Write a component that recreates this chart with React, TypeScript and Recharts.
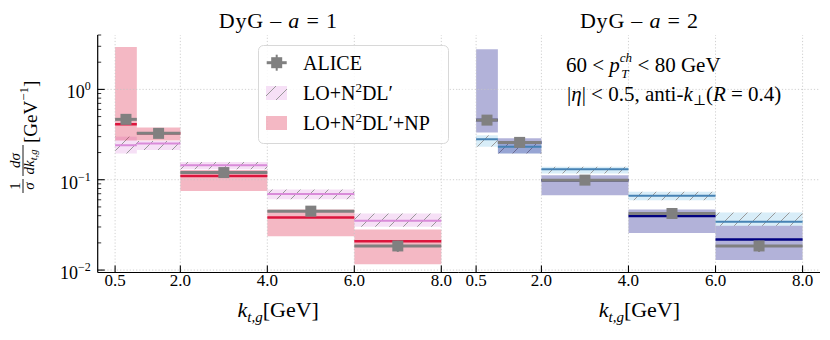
import React from 'react';
import {
  ComposedChart,
  XAxis,
  YAxis,
  Line,
  Scatter,
  ErrorBar,
  ReferenceArea,
  ReferenceLine,
  Legend,
} from 'recharts';

const FONT = '"Times New Roman", "Liberation Serif", "DejaVu Serif", "Noto Serif", Times, serif';

// k_t,g bins [GeV]
const binEdges = [0.5, 1.0, 2.0, 4.0, 6.0, 8.0];
const binCenters = [0.75, 1.5, 3.0, 5.0, 7.0];
const binHalfWidths = [0.25, 0.5, 1.0, 1.0, 1.0];
const xTicks = [0.5, 2.0, 4.0, 6.0, 8.0];
const xDomain = [0.1, 8.4];

const yDomain = [0.0094, 4.0];
const yMajorTicks = [0.01, 0.1, 1];
const yMajorExponents = ['−2', '−1', '0'];
const yMinorTicks = [
  0.02, 0.03, 0.04, 0.05, 0.06, 0.07, 0.08, 0.09,
  0.2, 0.3, 0.4, 0.5, 0.6, 0.7, 0.8, 0.9,
  2, 3, 4,
];
const yTicksAll = [...yMajorTicks, ...yMinorTicks].sort((a, b) => a - b);

// DyG a = 1
const alice1 = [0.466, 0.326, 0.12, 0.0449, 0.0185];
const alice1Err = [0.035, 0.022, 0.008, 0.0035, 0.0026];
const n2dl1 = [0.241, 0.252, 0.145, 0.0693, 0.0351];
const n2dl1Lo = [0.195, 0.213, 0.131, 0.061, 0.0301];
const n2dl1Hi = [0.3, 0.268, 0.157, 0.078, 0.0423];
const np1 = [0.41, 0.326, 0.11, 0.0383, 0.0209];
const np1Lo = [0.272, 0.272, 0.0748, 0.0237, 0.0116];
const np1Hi = [2.94, 0.379, 0.128, 0.0469, 0.0282];

// DyG a = 2
const alice2 = [0.457, 0.259, 0.099, 0.0423, 0.0185];
const alice2Err = [0.035, 0.018, 0.007, 0.0033, 0.0026];
const n2dl2 = [0.28, 0.232, 0.131, 0.0663, 0.0342];
const n2dl2Lo = [0.232, 0.195, 0.117, 0.0594, 0.0309];
const n2dl2Hi = [0.31, 0.26, 0.139, 0.0734, 0.0434];
const np2 = [0.457, 0.259, 0.099, 0.0398, 0.0218];
const np2Lo = [0.334, 0.195, 0.0675, 0.0258, 0.0129];
const np2Hi = [2.79, 0.287, 0.112, 0.0469, 0.0309];

// horizontal step segments, one per bin, separated by null gaps
const stepRows = (vals: number[]) =>
  vals.flatMap((v, i) => [
    { x: binEdges[i], y: v },
    { x: binEdges[i + 1], y: v },
    { x: binEdges[i + 1], y: null },
  ]);

const aliceRows = (vals: number[], errs: number[]) =>
  vals.map((v, i) => ({ x: binCenters[i], y: v, ex: binHalfWidths[i], ey: errs[i] }));

const AXIS = { stroke: '#000', strokeWidth: 1.2 };
const GRID = { stroke: '#c4c4c4', strokeDasharray: '1.2 2', strokeWidth: 0.8 };
const HATCH = 14;
const HATCH_PATH = `M-3,3 L3,-3 M0,${HATCH} L${HATCH},0 M${HATCH - 3},${HATCH + 3} L${HATCH + 3},${HATCH - 3}`;

const YTickLeft = ({ x, y, payload, showLabel, margin }: any) => {
  const idx = yMajorTicks.indexOf(payload.value);
  const major = idx >= 0;
  const ax = x + margin;
  return (
    <g>
      <line x1={ax} x2={ax + (major ? 7 : 3.5)} y1={y} y2={y} stroke="#000" strokeWidth={major ? 1.1 : 0.8} />
      {showLabel && major && (
        <text x={x} y={y + 9} textAnchor="end" fontSize={18} fontFamily={FONT} fill="#000">
          10<tspan dy={-8} fontSize={12}>{yMajorExponents[idx]}</tspan>
        </text>
      )}
    </g>
  );
};

const YTickRight = ({ x, y, payload }: any) => {
  const major = yMajorTicks.indexOf(payload.value) >= 0;
  return <line x1={x} x2={x - (major ? 7 : 3.5)} y1={y} y2={y} stroke="#000" strokeWidth={major ? 1.1 : 0.8} />;
};

const XTickBottom = ({ x, y, payload }: any) => {
  const ay = y - 12;
  return (
    <g>
      <line x1={x} x2={x} y1={ay} y2={ay - 7} stroke="#000" strokeWidth={1.1} />
      <text x={x} y={ay + 13} textAnchor="middle" fontSize={17} fontFamily={FONT} fill="#000">
        {Number(payload.value).toFixed(1)}
      </text>
    </g>
  );
};

const XTickTop = ({ x, y }: any) => (
  <line x1={x} x2={x} y1={y} y2={y + 7} stroke="#000" strokeWidth={1.1} />
);

const LegendBox = () => (
  <svg width={192} height={100} style={{ display: 'block' }} fontFamily={FONT}>
    <defs>
      <pattern id="hatch-leg" patternUnits="userSpaceOnUse" width={HATCH} height={HATCH} x={1} y={2}>
        <rect width={HATCH} height={HATCH} fill="#f6e0f6" />
        <path d={HATCH_PATH} stroke="#999999" strokeWidth={1} />
      </pattern>
    </defs>
    <rect x={0.5} y={0.5} width={190} height={98} rx={5} fill="#fff" fillOpacity={0.85} stroke="#d8d8d8" />
    <line x1={8.7} x2={28.7} y1={17.7} y2={17.7} stroke="#808080" strokeWidth={3} />
    <line x1={18.7} x2={18.7} y1={9.7} y2={25.7} stroke="#808080" strokeWidth={2} />
    <rect x={13.2} y={12.2} width={11} height={11} fill="#808080" />
    <text x={45} y={24.5} fontSize={20} fill="#000">ALICE</text>
    <rect x={8} y={41} width={21} height={14} fill="url(#hatch-leg)" />
    <text x={45} y={55} fontSize={20} fill="#000">
      LO+N<tspan dy={-8} fontSize={13}>2</tspan><tspan dy={8}>DL′</tspan>
    </text>
    <rect x={8} y={71} width={21} height={14} fill="#dc143c" fillOpacity={0.3} />
    <text x={45} y={85} fontSize={20} fill="#000">
      LO+N<tspan dy={-8} fontSize={13}>2</tspan><tspan dy={8}>DL′+NP</tspan>
    </text>
  </svg>
);

type PanelProps = {
  chartWidth: number;
  margin: { top: number; right: number; bottom: number; left: number };
  yAxisWidth: number;
  yTickMargin: number;
  showYLabels: boolean;
  alice: number[];
  aliceErr: number[];
  model: number[];
  modelLo: number[];
  modelHi: number[];
  np: number[];
  npLo: number[];
  npHi: number[];
  modelColor: string;
  modelBand: string;
  npColor: string;
  hatchId: string;
  legend?: boolean;
};

const Panel = (p: PanelProps) => {
  const bins = binEdges.slice(0, -1);
  return (
    <ComposedChart width={p.chartWidth} height={340} margin={p.margin}>
      <defs>
        <pattern id={p.hatchId} patternUnits="userSpaceOnUse" width={HATCH} height={HATCH}>
          <rect width={HATCH} height={HATCH} fill={p.modelBand} />
          <path d={HATCH_PATH} stroke="#999999" strokeWidth={1} />
        </pattern>
      </defs>
      <XAxis
        xAxisId={0}
        dataKey="x"
        type="number"
        domain={xDomain}
        ticks={xTicks}
        allowDataOverflow
        interval={0}
        height={30}
        tickSize={0}
        tickMargin={12}
        tick={XTickBottom}
        tickLine={false}
        axisLine={AXIS}
      />
      <XAxis
        xAxisId="top"
        orientation="top"
        dataKey="x"
        type="number"
        domain={xDomain}
        ticks={xTicks}
        allowDataOverflow
        interval={0}
        height={0}
        tickSize={0}
        tickMargin={0}
        tick={XTickTop}
        tickLine={false}
        axisLine={AXIS}
      />
      <YAxis
        yAxisId={0}
        type="number"
        scale="log"
        domain={yDomain}
        ticks={yTicksAll}
        allowDataOverflow
        interval={0}
        width={p.yAxisWidth}
        tickSize={0}
        tickMargin={p.yTickMargin}
        tick={(t: any) => <YTickLeft {...t} showLabel={p.showYLabels} margin={p.yTickMargin} />}
        tickLine={false}
        axisLine={AXIS}
      />
      <YAxis
        yAxisId="right"
        orientation="right"
        type="number"
        scale="log"
        domain={yDomain}
        ticks={yTicksAll}
        allowDataOverflow
        interval={0}
        width={0}
        tickSize={0}
        tickMargin={0}
        tick={YTickRight}
        tickLine={false}
        axisLine={AXIS}
      />

      {xTicks.map((t) => (
        <ReferenceLine key={`gx${t}`} x={t} {...GRID} ifOverflow="visible" />
      ))}
      {yMajorTicks.map((t) => (
        <ReferenceLine key={`gy${t}`} y={t} {...GRID} ifOverflow="visible" />
      ))}

      {bins.map((lo, i) => (
        <ReferenceArea
          key={`m${i}`}
          x1={lo}
          x2={binEdges[i + 1]}
          y1={p.modelLo[i]}
          y2={p.modelHi[i]}
          fill={`url(#${p.hatchId})`}
          fillOpacity={1}
          stroke="none"
          ifOverflow="visible"
        />
      ))}
      {bins.map((lo, i) => (
        <ReferenceArea
          key={`n${i}`}
          x1={lo}
          x2={binEdges[i + 1]}
          y1={p.npLo[i]}
          y2={p.npHi[i]}
          fill={p.npColor}
          fillOpacity={0.3}
          stroke="none"
          ifOverflow="visible"
        />
      ))}

      <Line
        data={stepRows(p.model)}
        dataKey="y"
        stroke={p.modelColor}
        strokeWidth={2}
        dot={false}
        activeDot={false}
        connectNulls={false}
        isAnimationActive={false}
      />
      <Line
        data={stepRows(p.np)}
        dataKey="y"
        stroke={p.npColor}
        strokeWidth={2.5}
        dot={false}
        activeDot={false}
        connectNulls={false}
        isAnimationActive={false}
      />
      <Scatter
        data={aliceRows(p.alice, p.aliceErr)}
        dataKey="y"
        fill="#808080"
        isAnimationActive={false}
        shape={(s: any) => <rect x={s.cx - 5.5} y={s.cy - 5.5} width={11} height={11} fill="#808080" />}
      >
        <ErrorBar dataKey="ex" direction="x" width={0} stroke="#808080" strokeWidth={3} isAnimationActive={false} />
        <ErrorBar dataKey="ey" direction="y" width={0} stroke="#808080" strokeWidth={2} isAnimationActive={false} />
      </Scatter>

      {p.legend && (
        <Legend
          layout="vertical"
          align="center"
          verticalAlign="middle"
          content={() => <LegendBox />}
          wrapperStyle={{ left: 258, top: 45, width: 192, height: 100 }}
        />
      )}
    </ComposedChart>
  );
};

const XLabel = ({ cx }: { cx: number }) => (
  <text x={cx} y={317} textAnchor="middle" fontSize={22} fill="#000">
    <tspan fontStyle="italic">k</tspan>
    <tspan fontStyle="italic" fontSize={15} dy={5}>t,g</tspan>
    <tspan dy={-5}>[GeV]</tspan>
  </text>
);

export default function App() {
  return (
    <div style={{ position: 'relative', width: 830, height: 340, margin: -8, background: '#fff', fontFamily: FONT }}>
      <div style={{ position: 'absolute', left: 0, top: 0 }}>
        <Panel
          chartWidth={460}
          margin={{ top: 35, right: 1.3, bottom: 37.5, left: 37.7 }}
          yAxisWidth={60}
          yTickMargin={7}
          showYLabels
          alice={alice1}
          aliceErr={alice1Err}
          model={n2dl1}
          modelLo={n2dl1Lo}
          modelHi={n2dl1Hi}
          np={np1}
          npLo={np1Lo}
          npHi={np1Hi}
          modelColor="#d98bd9"
          modelBand="#f6e0f6"
          npColor="#dc143c"
          hatchId="hatch-a1"
          legend
        />
      </div>
      <div style={{ position: 'absolute', left: 400, top: 0 }}>
        <Panel
          chartWidth={430}
          margin={{ top: 35, right: 10, bottom: 37.5, left: 58.7 }}
          yAxisWidth={0}
          yTickMargin={0}
          showYLabels={false}
          alice={alice2}
          aliceErr={alice2Err}
          model={n2dl2}
          modelLo={n2dl2Lo}
          modelHi={n2dl2Hi}
          np={np2}
          npLo={np2Lo}
          npHi={np2Hi}
          modelColor="#4682b4"
          modelBand="#d8edf8"
          npColor="#000080"
          hatchId="hatch-a2"
        />
      </div>
      <svg
        width={830}
        height={340}
        style={{ position: 'absolute', left: 0, top: 0, pointerEvents: 'none' }}
        fontFamily={FONT}
      >
        <text x={278.2} y={28.3} textAnchor="middle" fontSize={22} letterSpacing={0.8} fill="#000">
          DyG – <tspan fontStyle="italic">a</tspan> = 1
        </text>
        <text x={639.4} y={28.3} textAnchor="middle" fontSize={22} letterSpacing={0.8} fill="#000">
          DyG – <tspan fontStyle="italic">a</tspan> = 2
        </text>

        <text x={566} y={72} fontSize={21} fill="#000">
          60 &lt; <tspan fontStyle="italic">p</tspan>
          <tspan fontStyle="italic" fontSize={13} dy={-10}>ch</tspan>
          <tspan fontStyle="italic" fontSize={13} dx={-11} dy={16}>T</tspan>
          <tspan dx={4} dy={-6}> &lt; 80 GeV</tspan>
        </text>
        <text x={567} y={101} fontSize={21} fill="#000">
          |<tspan fontStyle="italic">η</tspan>| &lt; 0.5, anti-<tspan fontStyle="italic">k</tspan>
          <tspan fontSize={14} dy={4}>⊥</tspan>
          <tspan dy={-4}>(</tspan><tspan fontStyle="italic">R</tspan> = 0.4)
        </text>

        <XLabel cx={278.2} />
        <XLabel cx={639.4} />

        <g transform="translate(23,140) rotate(-90)" fill="#000">
          <line x1={-53} x2={-39} y1={0} y2={0} stroke="#000" strokeWidth={0.9} />
          <text x={-46} y={-3} textAnchor="middle" fontSize={15}>1</text>
          <text x={-46} y={11} textAnchor="middle" fontSize={15} fontStyle="italic">σ</text>
          <line x1={-36} x2={-5} y1={0} y2={0} stroke="#000" strokeWidth={0.9} />
          <text x={-20.5} y={-3} textAnchor="middle" fontSize={15} fontStyle="italic">dσ</text>
          <text x={-22} y={11} textAnchor="middle" fontSize={15} fontStyle="italic">
            dk<tspan fontSize={10.5} dy={3}>t,g</tspan>
          </text>
          <text x={-3} y={14} fontSize={19}>
            [GeV<tspan fontSize={13} dy={-9}>−1</tspan><tspan dy={9}>]</tspan>
          </text>
        </g>
      </svg>
    </div>
  );
}
